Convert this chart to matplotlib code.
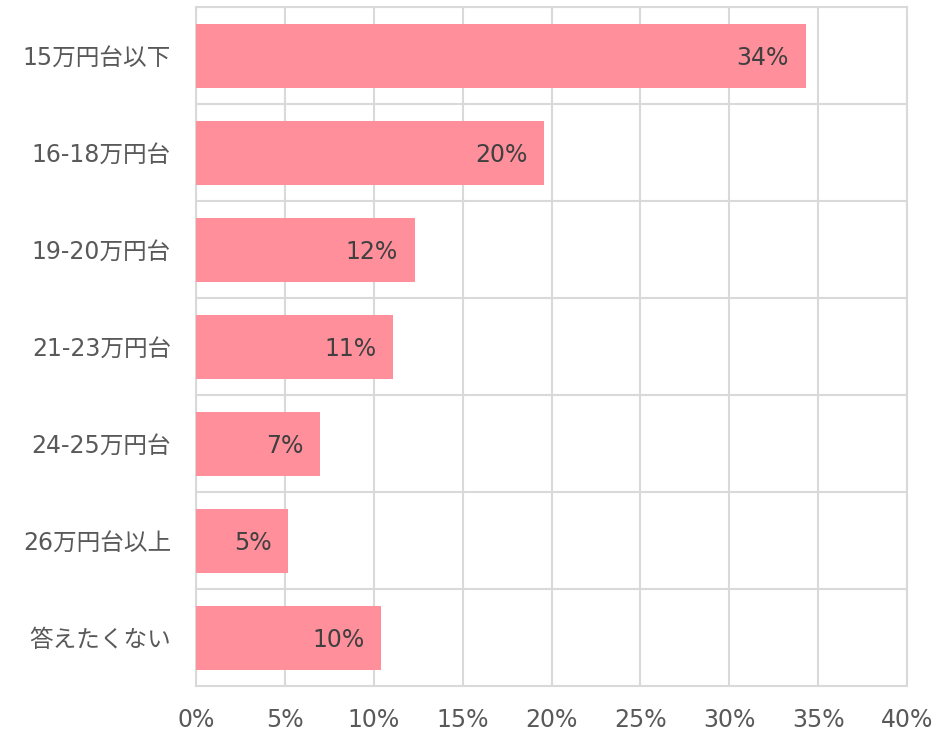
import matplotlib.pyplot as plt
from matplotlib.ticker import PercentFormatter

plt.rcParams['font.family'] = ['DejaVu Sans', 'Noto Sans CJK JP']

categories = ["15万円台以下", "16-18万円台", "19-20万円台", "21-23万円台",
              "24-25万円台", "26万円台以上", "答えたくない"]
values = [34.3, 19.6, 12.3, 11.1, 7.0, 5.2, 10.4]
labels = ["34%", "20%", "12%", "11%", "7%", "5%", "10%"]

text_color = "#595959"
grid_color = "#D9D9D9"
bar_color = "#FF8F9B"

fig = plt.figure(figsize=(9.46, 7.32), dpi=100)
ax = fig.add_axes([0.2072, 0.0628, 0.7516, 0.9276])

y = list(range(len(categories)))
bars = ax.barh(y, values, height=0.66, color=bar_color, zorder=3)

for b, lab in zip(bars, labels):
    ax.annotate(lab, xy=(b.get_width(), b.get_y() + b.get_height() / 2),
                xytext=(-12, -2), textcoords="offset points",
                ha="right", va="center", fontsize=17, color="#404040", zorder=4)

ax.set_xlim(0, 40)
ax.set_ylim(len(categories) - 0.5, -0.5)
ax.set_xticks(range(0, 41, 5))
ax.xaxis.set_major_formatter(PercentFormatter(decimals=0))
ax.set_yticks(y)
ax.set_yticklabels(categories)

# row separators
for i in range(len(categories)):
    ax.axhline(i - 0.5, color=grid_color, lw=1.5, zorder=1)
ax.grid(axis="x", color=grid_color, lw=1.5, zorder=1)

ax.tick_params(axis="both", length=0, labelsize=17, colors=text_color)
ax.tick_params(axis="x", pad=16)
ax.tick_params(axis="y", pad=18)
for s in ax.spines.values():
    s.set_color(grid_color)
    s.set_linewidth(1.5)

fig.savefig("out.png", dpi=100)
